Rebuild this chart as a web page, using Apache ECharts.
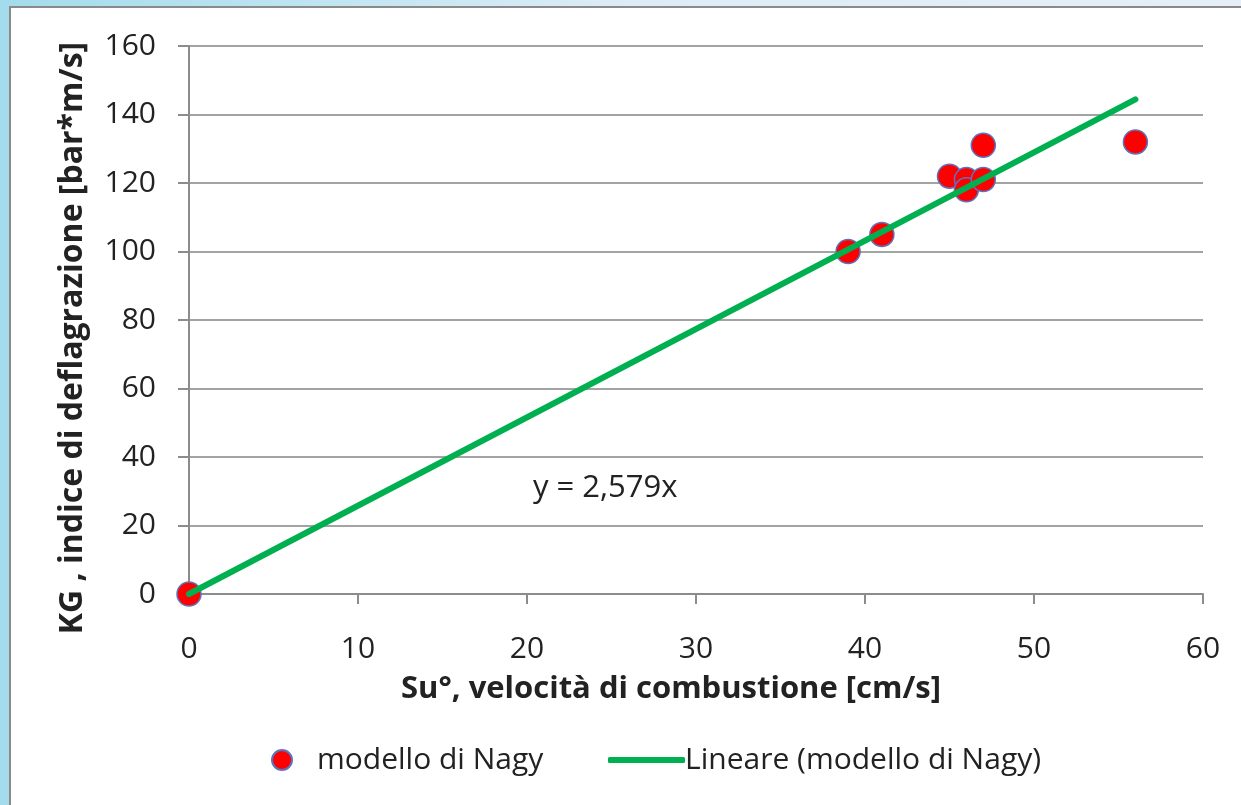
<!DOCTYPE html>
<html>
<head>
<meta charset="utf-8">
<script src="https://cdn.jsdelivr.net/npm/echarts@6/dist/echarts.min.js"></script>
<style>
  html, body { margin: 0; padding: 0; }
  #chart { width: 1241px; height: 805px; }
</style>
</head>
<body>
<div id="chart"></div>
<script>
// dati
const suValues = [0, 39, 41, 45, 46, 46, 47, 47, 56];
const kgValues = [0, 100, 105, 122, 121, 118, 131, 121, 132];
const trendX = [0, 56];
const trendY = [0, 144.4];
const xTicks = [0, 10, 20, 30, 40, 50, 60];
const yTicks = [0, 20, 40, 60, 80, 100, 120, 140, 160];

const FONT = '"Open Sans", sans-serif';
const chart = echarts.init(document.getElementById('chart'));

const option = {
    backgroundColor: {
        type: 'linear', x: 0, y: 0, x2: 1, y2: 0,
        colorStops: [
            { offset: 0, color: '#a3dcec' },
            { offset: 0.5, color: '#dcecf6' },
            { offset: 1, color: '#e6eff8' }
        ]
    },
    animation: false,
    textStyle: { fontFamily: FONT, color: '#222' },
    graphic: [
        {
            type: 'rect',
            z: -10,
            shape: { x: 10, y: 7, width: 1250, height: 820 },
            style: { fill: '#ffffff', stroke: '#8a8a8a', lineWidth: 2 }
        },
        {
            type: 'text',
            left: 533,
            top: 473,
            style: { text: 'y = 2,579x', font: '31px ' + FONT, fill: '#222' }
        }
    ],
    grid: { left: 189, right: 38, top: 46, bottom: 211 },
    legend: [
        {
            data: ['modello di Nagy'],
            left: 266, top: 740,
            icon: 'circle',
            itemWidth: 20, itemHeight: 20,
            textStyle: { fontSize: 30, fontFamily: FONT, color: '#222', padding: [0, 0, 0, 20] }
        },
        {
            data: ['Lineare (modello di Nagy)'],
            left: 603, top: 740,
            icon: 'roundRect',
            itemWidth: 77, itemHeight: 6,
            textStyle: { fontSize: 30, fontFamily: FONT, color: '#222', padding: [0, 0, 0, -5] }
        }
    ],
    xAxis: {
        type: 'value',
        min: 0, max: 60, interval: 10,
        name: 'Su°, velocità di combustione [cm/s]',
        nameLocation: 'middle',
        nameGap: 80,
        nameTextStyle: { fontSize: 31, fontWeight: 'bold', color: '#222', padding: [0, 50, 0, 0] },
        axisLine: { show: true, onZero: false, lineStyle: { color: '#8c8c8c', width: 2 } },
        axisTick: { show: true, length: 10, lineStyle: { color: '#8c8c8c', width: 2 } },
        axisLabel: { fontSize: 30, color: '#222', margin: 40 },
        splitLine: { show: false }
    },
    yAxis: {
        type: 'value',
        min: 0, max: 160, interval: 20,
        name: 'KG , indice di deflagrazione [bar*m/s]',
        nameLocation: 'middle',
        nameRotate: 90,
        nameGap: 100,
        nameTextStyle: { fontSize: 32, fontWeight: 'bold', color: '#222', padding: [0, 36, 0, 0] },
        axisLine: { show: true, onZero: false, lineStyle: { color: '#8c8c8c', width: 2 } },
        axisTick: { show: true, length: 11, lineStyle: { color: '#8c8c8c', width: 2 } },
        axisLabel: { fontSize: 30, color: '#222', margin: 33 },
        splitLine: { show: true, lineStyle: { color: '#a3a3a3', width: 2 } }
    },
    series: [
        {
            name: 'Lineare (modello di Nagy)',
            type: 'line',
            data: trendX.map((x, i) => [x, trendY[i]]),
            symbol: 'none',
            lineStyle: { color: '#00b050', width: 6, cap: 'round' },
            itemStyle: { color: '#00b050' },
            z: 3
        },
        {
            name: 'modello di Nagy',
            type: 'scatter',
            data: suValues.map((x, i) => [x, kgValues[i]]),
            symbol: 'circle',
            symbolSize: 24,
            itemStyle: { color: '#ff0000', borderColor: '#5b74c0', borderWidth: 1.5, opacity: 1 },
            z: 2
        }
    ]
};
chart.setOption(option);
</script>
</body>
</html>
